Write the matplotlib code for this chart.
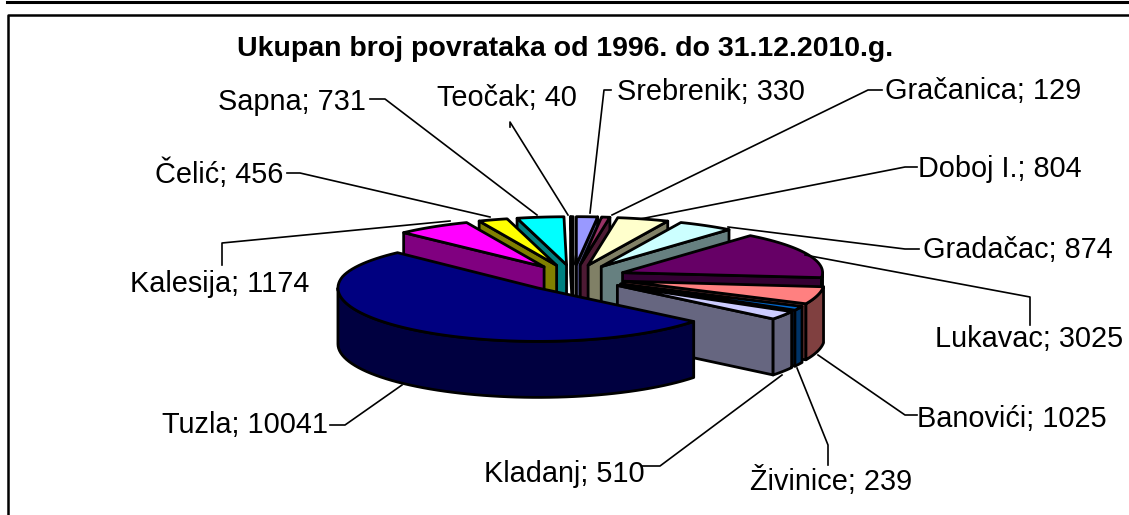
import numpy as np
import matplotlib
matplotlib.use("Agg")
import matplotlib.pyplot as plt
from matplotlib.patches import Polygon

plt.rcParams["font.family"] = ["Liberation Sans", "DejaVu Sans"]

names = ["Srebrenik", "Gračanica", "Doboj I.", "Gradačac", "Lukavac", "Banovići", "Živinice",
         "Kladanj", "Tuzla", "Kalesija", "Čelić", "Sapna", "Teočak"]
values = [330, 129, 804, 874, 3025, 1025, 239, 510, 10041, 1174, 456, 731, 40]
tops = ["#9999FF", "#993366", "#FFFFCC", "#CCFFFF", "#660066", "#FF8080", "#0066CC",
        "#CCCCFF", "#000080", "#FF00FF", "#FFFF00", "#00FFFF", "#800080"]
sides = ["#4C4C80", "#4D1A33", "#808066", "#668080", "#330033", "#804040", "#003366",
         "#666680", "#000040", "#800080", "#808000", "#008080", "#400040"]

# text left edge / vertical centre of each label, in pixels
label_x = [617, 885, 918, 923, 935, 917, 750, 484, 162, 130, 155, 218, 437]
label_y = [92, 91, 169, 250, 339, 419, 481, 474, 425, 284, 174, 102, 98]
leaders = [
    [(611, 90), (604, 90), (590, 213)],
    [(882, 90), (868, 90), (612, 215)],
    [(917, 167), (905, 167), (640, 219)],
    [(919, 249), (905, 249), (728, 227)],
    [(1030, 325), (1030, 297), (805, 255)],
    [(917, 415), (905, 415), (818, 355)],
    [(828, 465), (828, 445), (797, 368)],
    [(642, 466), (660, 466), (782, 375)],
    [(330, 425), (345, 425), (402, 385)],
    [(222, 265), (222, 243), (450, 221)],
    [(287, 173), (300, 173), (490, 217)],
    [(370, 99), (385, 99), (537, 215)],
    [(510, 127), (510, 122), (568, 215)],
]

CX, CY = 573.5, 277.5
R = 200
SQUASH = 0.267
EXPLODE = 53
DEPTH = 56
HORIZON = 277
BACK = 0.9  # the far half of the pie looks a bit flatter
LW = 2.0


def warp(y):
    return np.where(y < HORIZON, HORIZON - (HORIZON - y) * BACK, y)


def plan(apex, a, r=R):
    # a = degrees clockwise from the top of the pie
    a = np.radians(a)
    return np.column_stack([apex[0] + r * np.sin(a), warp(apex[1] - r * np.cos(a) * SQUASH)])


def wall(ax, pts, color):
    poly = np.vstack([pts, (pts + np.array([0, DEPTH]))[::-1]])
    ax.add_patch(Polygon(poly, closed=True, fc=color, ec="black", lw=LW, joinstyle="round"))


fig = plt.figure(figsize=(11.29, 5.15), dpi=100, facecolor="white")
ax = fig.add_axes([0, 0, 1, 1])
ax.set_xlim(0, 1129)
ax.set_ylim(515, 0)
ax.axis("off")

# frame, open on the right and at the bottom
ax.plot([7, 1129], [2, 2], color="black", lw=2.2)
ax.plot([8, 8, 1129], [515, 15, 15], color="black", lw=1.8)

vals = np.array(values, dtype=float)
ends = np.cumsum(vals) / vals.sum() * 360
starts = np.concatenate([[0], ends[:-1]])
mids = (starts + ends) / 2

# back slices first
order = np.argsort(-np.cos(np.radians(mids)))
for i in order:
    a0, a1, m = starts[i], ends[i], mids[i]
    apex = (CX + EXPLODE * np.sin(np.radians(m)), CY - EXPLODE * np.cos(np.radians(m)) * SQUASH)
    apex_pt = plan(apex, np.array([0.0]), r=0)
    if np.sin(np.radians(a0)) < 0:
        wall(ax, np.vstack([apex_pt, plan(apex, np.array([a0]))]), sides[i])
    if np.sin(np.radians(a1)) > 0:
        wall(ax, np.vstack([apex_pt, plan(apex, np.array([a1]))]), sides[i])
    lo, hi = max(a0, 90), min(a1, 270)
    if hi > lo:
        wall(ax, plan(apex, np.linspace(lo, hi, 60)), sides[i])
    arc = plan(apex, np.linspace(a0, a1, 80))
    ax.add_patch(Polygon(np.vstack([apex_pt, arc]), closed=True, fc=tops[i], ec="black",
                         lw=LW, joinstyle="round"))

for pts in leaders:
    xs, ys = zip(*pts)
    ax.plot(xs, ys, color="black", lw=1.2)

for name, val, x, y in zip(names, values, label_x, label_y):
    ax.text(x, y, f"{name}; {val}", fontsize=20.8, color="black", ha="left", va="center")

ax.text(565, 49, "Ukupan broj povrataka od 1996. do 31.12.2010.g.", fontsize=20.5,
        fontweight="bold", color="black", ha="center", va="center")

fig.savefig("out.png", dpi=100, facecolor="white")
